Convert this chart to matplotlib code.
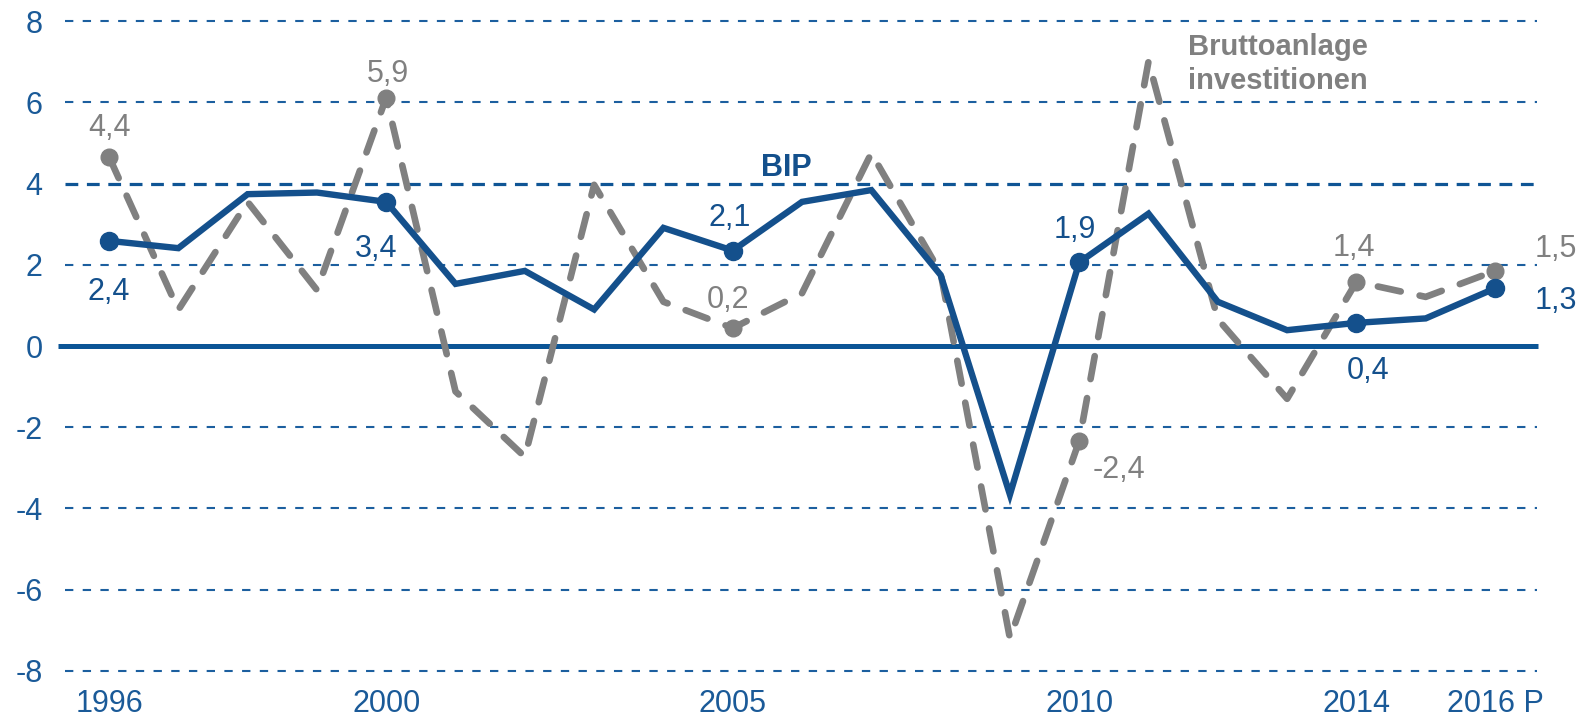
import matplotlib
matplotlib.use('Agg')
import matplotlib.pyplot as plt

plt.rcParams['font.family'] = ['Liberation Sans', 'DejaVu Sans']

# Daten
years = list(range(1996, 2017))
bip = [2.59, 2.41, 3.74, 3.78, 3.55, 1.53, 1.85, 0.90, 2.91, 2.35, 3.55,
       3.84, 1.75, -3.66, 2.06, 3.26, 1.09, 0.39, 0.57, 0.68, 1.42]
invest = [4.66, 0.89, 3.55, 1.38, 6.12, -1.12, -2.73, 3.97, 1.09, 0.44, 1.30,
          4.75, 1.80, -7.2, -2.34, 7.01, 0.66, -1.30, 1.58, 1.21, 1.85]

marked_years = [1996, 2000, 2005, 2010, 2014, 2016]
bip_labels = ['2,4', '3,4', '2,1', '1,9', '0,4', '1,3']
bip_offsets = [(0, -51), (-10, -47), (-3, 33), (-4, 32), (12, -48), (61, -13)]
inv_labels = ['4,4', '5,9', '0,2', '-2,4', '1,4', '1,5']
inv_offsets = [(0, 29), (2, 24), (-5, 28), (40, -29), (-3, 34), (61, 22)]

yticks = [-8, -6, -4, -2, 0, 2, 4, 6, 8]
xticks = [1996, 2000, 2005, 2010, 2014, 2016]
xticklabels = ['1996', '2000', '2005', '2010', '2014', '2016 P']

blue = '#14508c'
grid_blue = '#1c5f9f'
grey = '#808080'

fig = plt.figure(figsize=(15.83, 7.26), dpi=100)
ax = fig.add_axes([53.6 / 1583, 43 / 726, (1564.3 - 53.6) / 1583, 682.1 / 726])
ax.set_xlim(1995.2, 2017)
ax.set_ylim(-8.3, 8.5)

# Gitterlinien
for v in yticks:
    if v == 0:
        continue
    if v == 4:
        ax.hlines(v, 1995.36, 2016.6, color='#0f5595', lw=2.3,
                  linestyles=(0, (4, 2.7)), zorder=1)
    else:
        ax.hlines(v, 1995.36, 2016.6, color=grid_blue, lw=1.5,
                  linestyles=(0, (4, 4.5)), zorder=1)
ax.hlines(0, 1995.26, 2016.62, color='#0b5596', lw=3.6, zorder=2)

# Linien
ax.plot(years, invest, color=grey, lw=4.8, dashes=(3.5, 2.9),
        dash_capstyle='round', solid_capstyle='round', zorder=3)
ax.plot(years, bip, color=blue, lw=4.6, solid_joinstyle='miter', zorder=4)

idx = [years.index(y) for y in marked_years]
ax.plot(marked_years, [invest[i] for i in idx], 'o', color=grey, ms=12, zorder=3)
ax.plot(marked_years, [bip[i] for i in idx], 'o', color=blue, ms=13, zorder=5)

for i, lab, off in zip(idx, bip_labels, bip_offsets):
    ax.annotate(lab, (years[i], bip[i]), xytext=off, textcoords='offset pixels',
                ha='center', va='center', fontsize=22, color=blue, zorder=6)
for i, lab, off in zip(idx, inv_labels, inv_offsets):
    ax.annotate(lab, (years[i], invest[i]), xytext=off, textcoords='offset pixels',
                ha='center', va='center', fontsize=22, color=grey, zorder=6)

ax.text(2005.78, 4.38, 'BIP', ha='center', va='center', fontsize=22,
        fontweight='bold', color=blue)
ax.text(2011.57, 7.72, 'Bruttoanlage\ninvestitionen', ha='left', va='top',
        fontsize=21, fontweight='bold', color=grey, linespacing=1.3)

ax.set_yticks(yticks)
ax.set_yticklabels([str(v) for v in yticks])
ax.set_xticks(xticks)
ax.set_xticklabels(xticklabels)
ax.tick_params(axis='both', length=0, labelsize=22, labelcolor='#1a5a98')
ax.tick_params(axis='y', pad=8)
ax.tick_params(axis='x', pad=4)
for s in ax.spines.values():
    s.set_visible(False)

fig.savefig('out.png', dpi=100)
